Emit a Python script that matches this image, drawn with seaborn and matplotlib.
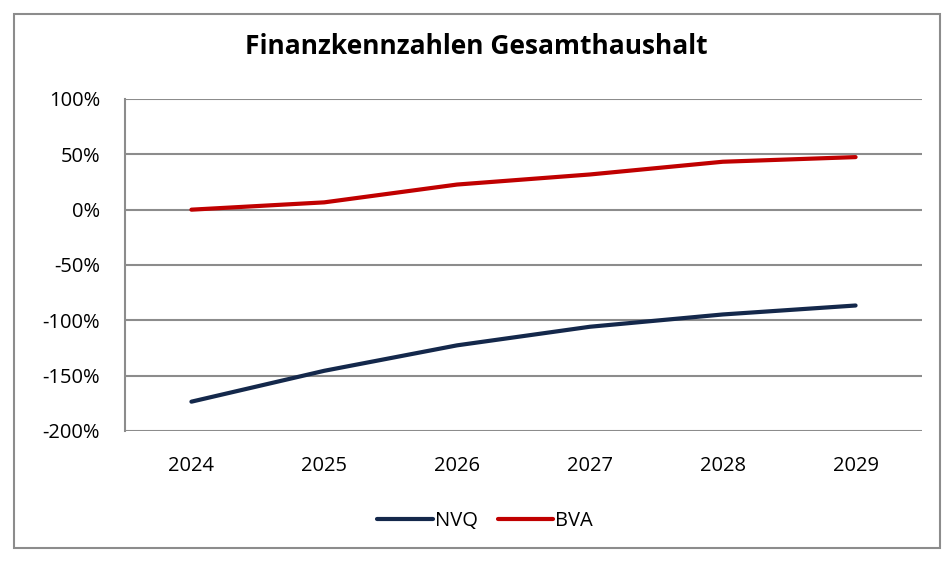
import matplotlib
matplotlib.use("Agg")
import matplotlib.pyplot as plt
import seaborn as sns
import pandas as pd
from matplotlib.ticker import FuncFormatter

years = ["2024", "2025", "2026", "2027", "2028", "2029"]
nvq = [-173.5, -145.6, -122.6, -105.8, -94.7, -86.6]
bva = [0.0, 6.6, 22.7, 31.8, 43.3, 47.5]
series_names = ["NVQ", "BVA"]
colors = {"NVQ": "#14284B", "BVA": "#C00000"}

sns.set_theme(style="white")
plt.rcParams["font.family"] = ["Open Sans", "DejaVu Sans"]
plt.rcParams["text.color"] = "black"

df = pd.DataFrame({
    "Jahr": years * 2,
    "idx": list(range(len(years))) * 2,
    "Wert": nvq + bva,
    "Serie": [series_names[0]] * len(years) + [series_names[1]] * len(years),
})

fig = plt.figure(figsize=(9.53, 5.62), dpi=100)
ax = fig.add_axes([125 / 953, 1 - 431 / 562, (922 - 125) / 953, (431 - 99) / 562])

sns.lineplot(data=df, x="idx", y="Wert", hue="Serie", palette=colors,
             linewidth=3, ax=ax, legend=True, solid_capstyle="round")

ax.set_xlim(-0.5, 5.5)
ax.set_ylim(-200, 100)
ax.set_yticks(range(-200, 101, 50))
ax.yaxis.set_major_formatter(FuncFormatter(lambda v, p: f"{int(v)}%"))
ax.set_xticks(range(len(years)))
ax.set_xticklabels(years)
ax.set_xlabel("")
ax.set_ylabel("")
ax.grid(axis="y", color="#8C8C8C", linewidth=1.5)
ax.set_axisbelow(True)
for s in ["top", "right", "bottom"]:
    ax.spines[s].set_visible(False)
ax.spines["left"].set_color("#8C8C8C")
ax.spines["left"].set_linewidth(1.5)
ax.tick_params(axis="both", labelsize=14.5, colors="black", labelcolor="black", length=0)
ax.tick_params(axis="y", pad=18)
ax.tick_params(axis="x", pad=18)

handles, labels = ax.get_legend_handles_labels()
ax.get_legend().remove()
leg = fig.legend(handles, labels, loc="center", bbox_to_anchor=(485 / 953, 1 - 521 / 562),
                 ncol=2, frameon=False, fontsize=14.5, handlelength=2.75, handletextpad=0.1,
                 columnspacing=1.0)
for t in leg.get_texts():
    t.set_color("black")

fig.text(0.5, 1 - 47 / 562, "Finanzkennzahlen Gesamthaushalt", ha="center", va="center",
         fontsize=19, fontweight="bold", color="black")

border = plt.Rectangle((14 / 953, 1 - 548 / 562), (940 - 14) / 953, (548 - 14) / 562,
                       transform=fig.transFigure, fill=False, edgecolor="#8C8C8C", linewidth=1.5)
fig.patches.append(border)

fig.savefig("out.png", dpi=100)
